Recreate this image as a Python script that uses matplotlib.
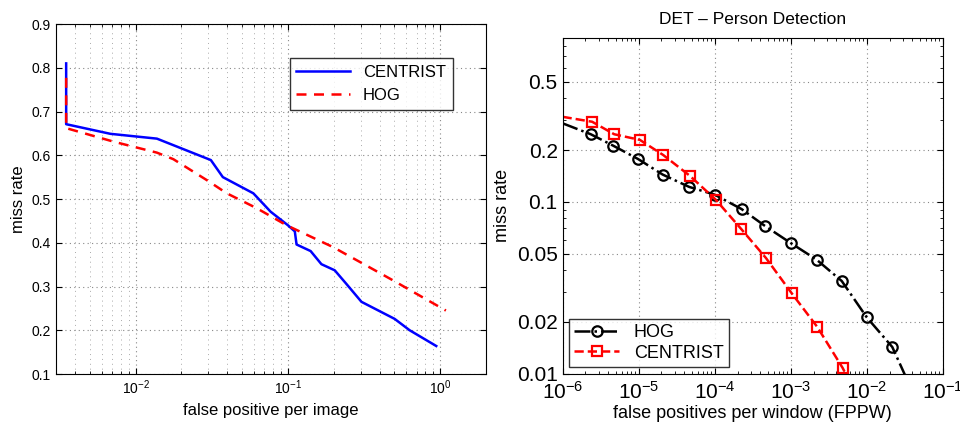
import matplotlib
matplotlib.use('Agg')
import matplotlib.pyplot as plt
from matplotlib.ticker import LogLocator, NullFormatter, FixedLocator, FixedFormatter

plt.rcParams['font.family'] = ['Liberation Sans', 'DejaVu Sans']

# Left: miss rate vs false positive per image
fppi_centrist = [0.0035, 0.0035, 0.00683, 0.0138, 0.0312, 0.0374, 0.0593, 0.077, 0.1, 0.111,
                 0.114, 0.141, 0.166, 0.203, 0.242, 0.304, 0.502, 0.63, 0.942]
mr_centrist = [0.810, 0.671, 0.649, 0.638, 0.589, 0.550, 0.513, 0.471, 0.440, 0.426,
               0.396, 0.381, 0.351, 0.337, 0.306, 0.265, 0.226, 0.200, 0.164]
fppi_hog = [0.0035, 0.0035, 0.00718, 0.0138, 0.0177, 0.0294, 0.0397, 0.0624, 0.098, 0.198,
            0.327, 0.49, 1.09]
mr_hog = [0.777, 0.662, 0.631, 0.606, 0.591, 0.543, 0.513, 0.479, 0.440, 0.390,
          0.348, 0.314, 0.245]

# Right: DET curves (FPPW)
fppw_hog = [1e-6, 2.35e-6, 4.63e-6, 9.9e-6, 2.07e-5, 4.63e-5, 1.0e-4, 2.26e-4, 4.6e-4,
            1.0e-3, 2.2e-3, 4.7e-3, 1e-2, 2.17e-2, 3.3e-2]
miss_hog = [0.286, 0.247, 0.212, 0.177, 0.144, 0.122, 0.110, 0.0907, 0.0723,
            0.0576, 0.046, 0.0346, 0.0213, 0.0143, 0.0095]
fppw_cen = [1e-6, 2.45e-6, 4.78e-6, 1.04e-5, 2.11e-5, 4.73e-5, 1.03e-4, 2.22e-4, 4.73e-4,
            1.03e-3, 2.24e-3, 4.83e-3, 5.6e-3]
miss_cen = [0.312, 0.292, 0.247, 0.229, 0.187, 0.1415, 0.103, 0.0697, 0.0471,
            0.0294, 0.0187, 0.0108, 0.0095]

grid_style = dict(ls=(0, (1, 3)), color='#888888', lw=0.8)

fig = plt.figure(figsize=(9.6, 4.25), dpi=100)

# ---- left panel
ax1 = fig.add_axes([0.0583, 0.12, 0.448, 0.8235])
ax1.plot(fppi_centrist, mr_centrist, '-', color='#0000ff', lw=1.8, label='CENTRIST')
ax1.plot(fppi_hog, mr_hog, '--', color='#ff0000', lw=1.8, dashes=(4, 3), label='HOG')
ax1.set_xscale('log')
ax1.set_xlim(0.003, 2)
ax1.set_ylim(0.1, 0.9)
ax1.set_yticks([0.1, 0.2, 0.3, 0.4, 0.5, 0.6, 0.7, 0.8, 0.9])
ax1.xaxis.set_minor_locator(LogLocator(subs=range(2, 10)))
ax1.xaxis.set_minor_formatter(NullFormatter())
ax1.grid(True, which='major', **grid_style)
ax1.grid(True, which='minor', axis='x', ls=(0, (1, 4)), color='#aaaaaa', lw=0.7)
ax1.tick_params(direction='in', top=True, right=True, labelsize=10, length=4)
ax1.tick_params(which='minor', direction='in', top=True, length=2)
ax1.set_xlabel('false positive per image', fontsize=12)
ax1.set_ylabel('miss rate', fontsize=12)
leg1 = ax1.legend(loc='upper right', bbox_to_anchor=(0.922, 0.902), borderaxespad=0,
                  fontsize=12, fancybox=False, edgecolor='black', handlelength=3.2)
leg1.get_frame().set_linewidth(1.0)

# ---- right panel
ax2 = fig.add_axes([0.586, 0.1207, 0.396, 0.7906])
ax2.plot(fppw_hog, miss_hog, '-.', color='black', lw=1.8, marker='o', ms=7.5,
         mfc='none', mew=1.6, markevery=list(range(1, 14)), label='HOG')
ax2.plot(fppw_cen, miss_cen, '--', color='#ff0000', lw=1.8, marker='s', ms=6.5,
         mfc='none', mew=1.6, markevery=list(range(1, 12)), label='CENTRIST')
ax2.set_xscale('log')
ax2.set_yscale('log')
ax2.set_xlim(1e-6, 1e-1)
ax2.set_ylim(0.01, 0.9)
yt = [0.01, 0.02, 0.05, 0.1, 0.2, 0.5]
ax2.yaxis.set_major_locator(FixedLocator(yt))
ax2.yaxis.set_major_formatter(FixedFormatter(['0.01', '0.02', '0.05', '0.1', '0.2', '0.5']))
ax2.yaxis.set_minor_formatter(NullFormatter())
ax2.xaxis.set_minor_locator(LogLocator(subs=range(2, 10)))
ax2.xaxis.set_minor_formatter(NullFormatter())
ax2.grid(True, which='major', **grid_style)
ax2.tick_params(direction='in', top=True, right=True, labelsize=15, length=4)
ax2.tick_params(axis='x', pad=5)
ax2.tick_params(which='minor', direction='in', top=True, right=True, length=2)
ax2.set_xlabel('false positives per window (FPPW)', fontsize=13, labelpad=2)
ax2.set_ylabel('miss rate', fontsize=13)
ax2.set_title('DET \u2013 Person Detection', fontsize=12.5, pad=10)
leg2 = ax2.legend(loc='lower left', bbox_to_anchor=(0.0166, 0.02), borderaxespad=0,
                  fontsize=13, fancybox=False, edgecolor='black', handlelength=2.5,
                  labelspacing=0.2, borderpad=0.3)
leg2.get_frame().set_linewidth(1.0)

fig.savefig('out.png', dpi=100)
